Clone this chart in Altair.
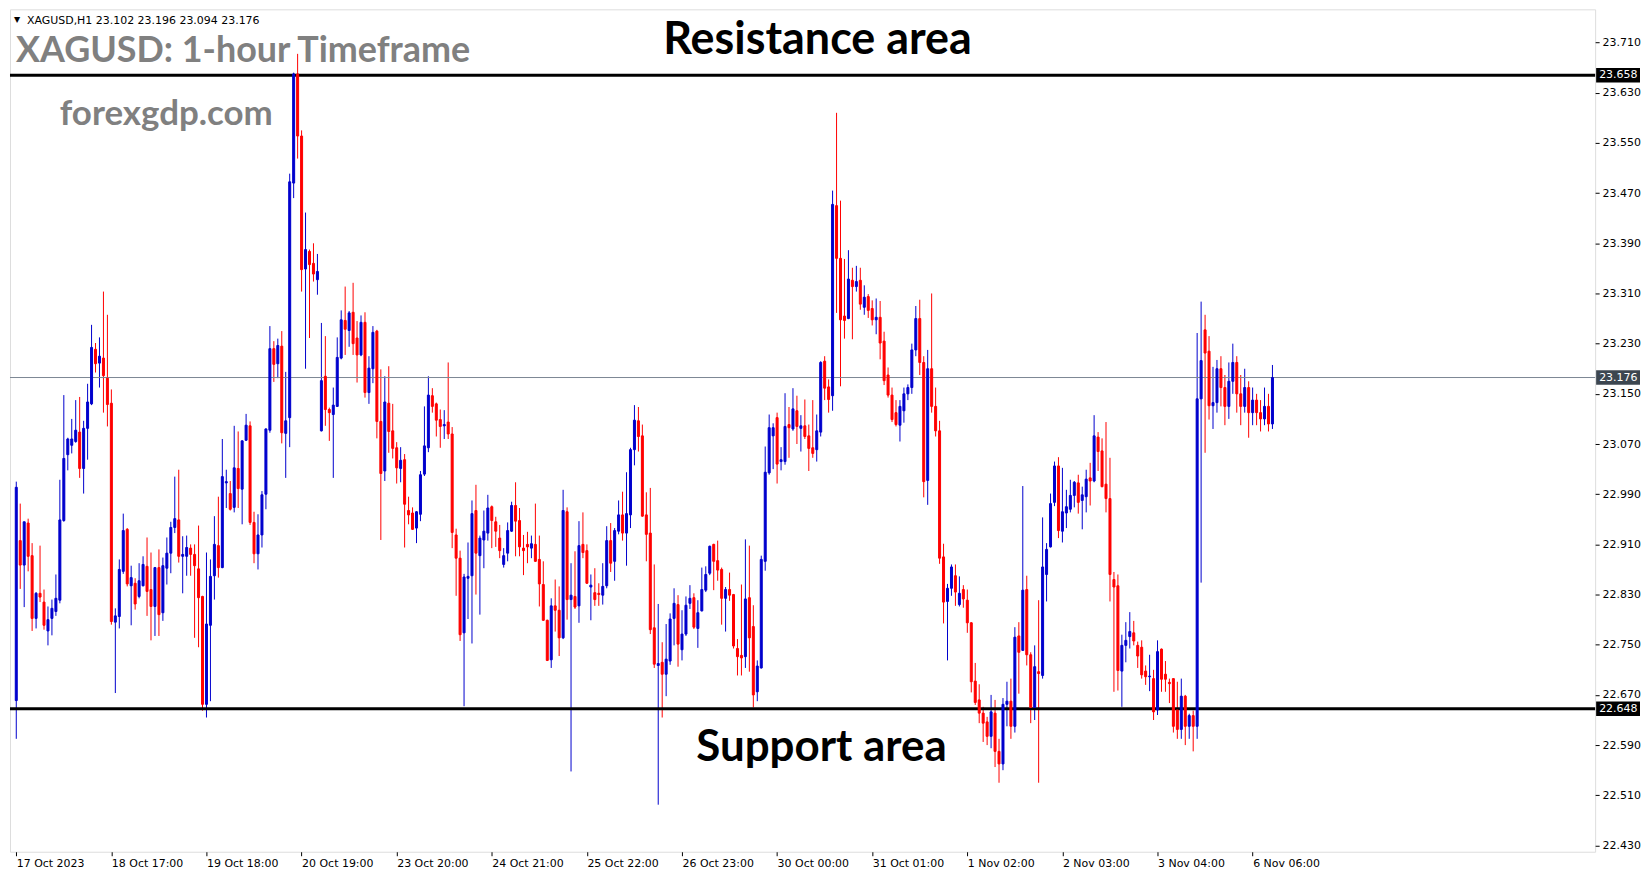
import altair as alt
import pandas as pd

# ---- candle data (XAGUSD H1) ----
OPEN = [22.661,22.916,22.877,22.944,22.892,22.792,22.832,22.818,22.772,22.792,
        22.803,22.821,22.948,23.053,23.068,23.074,23.089,23.031,23.095,23.134,
        23.221,23.199,23.207,23.175,23.135,22.786,22.795,22.867,22.934,22.844,
        22.848,22.827,22.844,22.875,22.838,22.811,22.873,22.801,22.872,22.896,
        22.937,22.949,22.891,22.891,22.904,22.894,22.871,22.827,22.655,22.781,
        22.860,22.908,22.873,23.008,22.991,22.969,23.031,22.998,23.076,23.099,
        22.945,22.895,22.925,22.990,23.092,23.222,23.198,23.226,23.087,23.112,
        23.486,23.660,23.561,23.349,23.377,23.358,23.332,23.091,23.178,23.125,
        23.117,23.130,23.207,23.267,23.251,23.280,23.239,23.212,23.264,23.152,
        23.190,23.250,23.106,23.027,23.135,23.091,23.064,23.031,23.045,22.964,
        22.960,22.936,22.958,23.022,23.064,23.147,23.134,23.109,23.099,23.105,
        23.086,22.925,22.888,22.769,22.856,22.860,22.964,22.892,22.917,22.928,
        22.970,22.946,22.920,22.878,22.896,22.931,22.972,22.948,22.904,22.910,
        22.904,22.910,22.886,22.846,22.789,22.726,22.812,22.805,22.761,22.962,
        22.822,22.827,22.812,22.910,22.900,22.842,22.833,22.832,22.829,22.844,
        22.916,22.883,22.931,22.957,22.928,22.957,23.061,23.107,23.083,22.957,
        22.928,22.777,22.717,22.722,22.703,22.724,22.792,22.814,22.742,22.767,
        22.816,22.825,22.776,22.804,22.837,22.864,22.910,22.884,22.870,22.824,
        22.838,22.830,22.744,22.733,22.731,22.825,22.779,22.675,22.713,22.883,
        23.024,23.083,23.112,23.042,23.042,23.101,23.094,23.123,23.095,23.099,
        23.083,23.064,23.061,23.089,23.202,23.161,23.147,23.450,23.366,23.274,
        23.270,23.331,23.321,23.331,23.288,23.305,23.286,23.268,23.272,23.234,
        23.180,23.148,23.120,23.100,23.123,23.150,23.160,23.220,23.270,23.200,
        23.012,23.190,23.130,23.091,22.890,22.819,22.840,22.860,22.814,22.838,
        22.821,22.785,22.692,22.662,22.641,22.627,22.604,22.641,22.580,22.560,
        22.655,22.660,22.620,22.764,22.741,22.838,22.734,22.650,22.707,22.701,
        22.862,22.906,22.977,23.035,22.931,22.960,22.966,22.988,23.008,22.980,
        22.986,23.016,23.011,23.081,23.059,23.006,22.983,22.854,22.844,22.708,
        22.749,22.763,22.769,22.749,22.746,22.708,22.699,22.696,22.646,22.743,
        22.703,22.690,22.696,22.646,22.615,22.668,22.620,22.637,22.620,23.142,
        23.252,23.218,23.131,23.136,23.190,23.160,23.130,23.170,23.200,23.150,
        23.130,23.160,23.120,23.140,23.120,23.110,23.130,23.102]
HIGH = [23.010,22.975,22.946,22.951,22.912,22.834,22.908,22.838,22.811,22.822,
        22.862,23.013,23.148,23.080,23.110,23.140,23.145,23.107,23.166,23.260,
        23.231,23.240,23.313,23.276,23.157,22.808,22.886,22.959,22.936,22.876,
        22.856,22.880,22.891,22.921,22.897,22.874,22.902,22.889,22.921,22.946,
        23.018,23.029,22.923,22.924,22.910,22.910,22.940,22.828,22.897,22.886,
        22.955,22.986,23.078,23.029,23.011,23.099,23.090,23.076,23.118,23.106,
        22.962,22.958,22.995,23.095,23.258,23.234,23.238,23.250,23.185,23.501,
        23.662,23.692,23.570,23.439,23.380,23.390,23.373,23.263,23.242,23.128,
        23.160,23.240,23.283,23.321,23.282,23.327,23.266,23.275,23.280,23.210,
        23.258,23.252,23.189,23.178,23.194,23.134,23.073,23.065,23.054,22.986,
        22.969,22.963,23.027,23.130,23.178,23.159,23.136,23.125,23.124,23.200,
        23.097,22.935,22.900,22.863,22.913,22.980,23.005,22.924,22.964,22.989,
        22.972,22.954,22.941,22.904,22.945,22.978,23.009,22.968,22.925,22.930,
        22.924,22.975,22.924,22.883,22.790,22.824,22.854,22.843,22.997,22.969,
        22.880,22.899,22.947,22.961,22.910,22.862,22.872,22.848,22.880,22.939,
        22.944,22.936,22.980,22.994,23.025,23.064,23.132,23.129,23.101,22.993,
        23.000,22.878,22.815,22.754,22.783,22.800,22.840,22.829,22.805,22.827,
        22.845,22.832,22.821,22.873,22.875,22.908,22.911,22.916,22.873,22.842,
        22.865,22.831,22.759,22.846,22.918,22.908,22.813,22.725,22.892,23.066,
        23.117,23.103,23.120,23.065,23.151,23.129,23.159,23.147,23.116,23.141,
        23.101,23.140,23.117,23.202,23.210,23.173,23.474,23.598,23.458,23.365,
        23.379,23.351,23.354,23.351,23.323,23.309,23.299,23.302,23.298,23.249,
        23.192,23.160,23.140,23.140,23.160,23.165,23.230,23.290,23.300,23.210,
        23.220,23.310,23.160,23.107,22.911,22.847,22.878,22.878,22.859,22.845,
        22.838,22.786,22.721,22.687,22.651,22.635,22.670,22.662,22.600,22.665,
        22.691,22.696,22.778,22.786,23.003,22.860,22.738,22.749,22.821,22.953,
        22.912,22.991,23.042,23.049,23.032,22.997,23.013,23.011,23.021,23.002,
        23.029,23.040,23.116,23.089,23.079,23.105,23.048,22.866,22.862,22.766,
        22.786,22.802,22.788,22.755,22.757,22.717,22.734,22.710,22.757,22.744,
        22.724,22.696,22.696,22.691,22.696,22.670,22.640,22.645,23.247,23.297,
        23.276,23.242,23.193,23.204,23.210,23.180,23.200,23.230,23.210,23.180,
        23.190,23.170,23.160,23.150,23.140,23.160,23.150,23.196]
LOW = [22.600,22.839,22.810,22.867,22.772,22.776,22.818,22.774,22.749,22.765,
       22.796,22.816,22.946,23.028,23.055,23.072,23.016,22.991,23.045,23.132,
       23.184,23.160,23.120,23.098,22.782,22.673,22.776,22.863,22.843,22.781,
       22.806,22.824,22.843,22.796,22.757,22.764,22.764,22.788,22.846,22.864,
       22.928,22.881,22.832,22.860,22.860,22.761,22.746,22.645,22.634,22.660,
       22.822,22.857,22.872,22.968,22.964,22.961,22.968,22.942,23.075,22.941,
       22.880,22.870,22.905,22.966,23.088,23.169,23.175,23.071,23.016,23.065,
       23.462,23.525,23.313,23.190,23.239,23.329,23.308,23.090,23.099,23.075,
       23.016,23.129,23.205,23.212,23.225,23.212,23.168,23.210,23.144,23.134,
       23.167,23.079,22.917,23.011,23.056,23.047,23.007,23.009,22.905,22.942,
       22.933,22.912,22.947,23.019,23.057,23.120,23.082,23.064,23.078,23.078,
       22.904,22.828,22.756,22.652,22.791,22.752,22.830,22.798,22.872,22.916,
       22.904,22.906,22.888,22.873,22.883,22.930,22.891,22.891,22.861,22.880,
       22.888,22.882,22.811,22.788,22.724,22.713,22.771,22.732,22.759,22.790,
       22.548,22.807,22.785,22.888,22.847,22.789,22.812,22.812,22.814,22.840,
       22.866,22.852,22.926,22.916,22.876,22.936,23.036,23.058,22.954,22.883,
       22.767,22.713,22.495,22.634,22.668,22.718,22.749,22.715,22.725,22.764,
       22.807,22.775,22.745,22.803,22.834,22.861,22.837,22.852,22.782,22.771,
       22.820,22.744,22.701,22.701,22.713,22.707,22.650,22.660,22.712,22.868,
       23.021,23.030,23.007,23.028,23.037,23.048,23.091,23.070,23.058,23.078,
       23.027,23.048,23.042,23.082,23.140,23.120,23.123,23.279,23.162,23.238,
       23.269,23.237,23.313,23.284,23.276,23.271,23.259,23.245,23.205,23.164,
       23.144,23.105,23.098,23.074,23.104,23.140,23.150,23.210,23.180,22.985,
       22.973,23.120,23.082,22.879,22.784,22.725,22.828,22.812,22.811,22.809,
       22.769,22.674,22.654,22.625,22.595,22.590,22.585,22.555,22.530,22.550,
       22.620,22.600,22.610,22.672,22.740,22.717,22.625,22.630,22.530,22.696,
       22.819,22.905,22.971,22.920,22.913,22.936,22.961,22.969,22.959,22.934,
       22.961,22.972,23.009,23.027,23.001,22.961,22.819,22.675,22.677,22.651,
       22.722,22.744,22.749,22.713,22.696,22.686,22.676,22.630,22.638,22.675,
       22.675,22.657,22.610,22.600,22.600,22.590,22.600,22.580,22.600,22.849,
       23.056,23.109,23.094,23.120,23.130,23.100,23.110,23.150,23.120,23.100,
       23.120,23.080,23.100,23.100,23.090,23.100,23.090,23.094]
CLOSE = [23.001,22.877,22.946,22.891,22.792,22.832,22.826,22.781,22.790,22.808,
         22.824,22.949,23.047,23.078,23.078,23.092,23.031,23.095,23.137,23.224,
         23.198,23.210,23.179,23.133,22.787,22.796,22.870,22.932,22.847,22.857,
         22.815,22.852,22.878,22.835,22.811,22.873,22.798,22.876,22.896,22.937,
         22.951,22.891,22.894,22.905,22.894,22.876,22.825,22.655,22.783,22.859,
         22.910,22.873,23.018,23.010,22.966,23.032,22.999,23.075,23.100,22.945,
         22.895,22.925,22.989,23.094,23.222,23.197,23.227,23.088,23.107,23.488,
         23.660,23.561,23.348,23.380,23.356,23.341,23.345,23.171,23.125,23.120,
         23.132,23.208,23.268,23.253,23.279,23.230,23.212,23.264,23.152,23.191,
         23.248,23.106,23.023,23.137,23.090,23.063,23.032,23.044,22.974,22.957,
         22.934,22.962,23.021,23.067,23.148,23.130,23.108,23.098,23.101,23.086,
         22.929,22.888,22.766,22.858,22.859,22.959,22.896,22.920,22.931,22.968,
         22.948,22.931,22.900,22.892,22.932,22.972,22.947,22.906,22.900,22.906,
         22.911,22.883,22.847,22.789,22.725,22.812,22.805,22.761,22.964,22.822,
         22.829,22.810,22.908,22.897,22.848,22.845,22.822,22.830,22.843,22.916,
         22.880,22.932,22.957,22.928,22.959,23.061,23.108,23.082,22.955,22.926,
         22.774,22.719,22.720,22.703,22.727,22.791,22.816,22.751,22.767,22.813,
         22.824,22.778,22.801,22.838,22.862,22.907,22.883,22.869,22.824,22.838,
         22.829,22.748,22.731,22.729,22.823,22.761,22.670,22.716,22.886,23.025,
         23.096,23.096,23.038,23.045,23.098,23.096,23.126,23.098,23.099,23.082,
         23.063,23.055,23.091,23.200,23.159,23.141,23.452,23.366,23.268,23.267,
         23.333,23.321,23.329,23.293,23.304,23.283,23.268,23.272,23.231,23.171,
         23.148,23.109,23.101,23.130,23.150,23.160,23.220,23.270,23.200,23.010,
         23.190,23.130,23.091,22.888,22.818,22.840,22.874,22.834,22.832,22.823,
         22.785,22.691,22.658,22.641,22.625,22.604,22.643,22.580,22.560,22.655,
         22.660,22.620,22.762,22.738,22.837,22.734,22.650,22.715,22.704,22.874,
         22.902,22.975,23.035,22.932,22.962,22.970,22.988,23.009,22.977,22.989,
         23.014,23.011,23.083,23.058,23.002,22.983,22.862,22.842,22.709,22.749,
         22.757,22.771,22.756,22.732,22.702,22.699,22.700,22.643,22.739,22.695,
         22.695,22.688,22.620,22.615,22.668,22.620,22.637,22.620,23.142,23.203,
         23.215,23.131,23.136,23.190,23.160,23.130,23.170,23.200,23.150,23.130,
         23.160,23.120,23.140,23.120,23.110,23.130,23.102,23.176]

X_TICK_BARS = [0, 24, 48, 72, 96, 120, 144, 168, 192, 216, 240, 264, 288, 312]
X_TICK_LABELS = ["17 Oct 2023", "18 Oct 17:00", "19 Oct 18:00", "20 Oct 19:00",
                 "23 Oct 20:00", "24 Oct 21:00", "25 Oct 22:00", "26 Oct 23:00",
                 "30 Oct 00:00", "31 Oct 01:00", "1 Nov 02:00", "2 Nov 03:00",
                 "3 Nov 04:00", "6 Nov 06:00"]
Y_TICKS = [22.430, 22.510, 22.590, 22.670, 22.750, 22.830, 22.910, 22.990,
           23.070, 23.150, 23.230, 23.310, 23.390, 23.470, 23.550, 23.630, 23.710]
RESISTANCE = 23.658
SUPPORT = 22.648
LAST_PRICE = 23.176
HEADER = "XAGUSD,H1  23.102 23.196 23.094 23.176"

W, H = 1590, 845
X_DOMAIN = [-0.325, 397.175]
Y_DOMAIN = [22.420, 23.763]
BLUE, RED = "#0000CD", "#FF0000"
SMALL_FONT = "DejaVu Sans"
BIG_FONT = "Lato"

n = len(CLOSE)
df = pd.DataFrame({"i": list(range(n)), "open": OPEN, "high": HIGH,
                   "low": LOW, "close": CLOSE})
df["dir"] = ["up" if c >= o else "down" for o, c in zip(OPEN, CLOSE)]

xs = alt.Scale(domain=X_DOMAIN, nice=False, zero=False)
ys = alt.Scale(domain=Y_DOMAIN, nice=False, zero=False)
cs = alt.Scale(domain=["up", "down"], range=[BLUE, RED])

label_expr = "[" + ",".join("'%s'" % s for s in X_TICK_LABELS) + "][round(datum.value/24)]"

x_enc = alt.X("i:Q", scale=xs, axis=alt.Axis(
    values=X_TICK_BARS, labelExpr=label_expr, orient="bottom", grid=False,
    domain=False, tickSize=4, labelAlign="left", labelPadding=2,
    labelFont=SMALL_FONT, labelFontSize=11, labelColor="black",
    tickColor="black", title=None, labelOverlap=False, labelFlush=False))
y_axis = alt.Axis(values=Y_TICKS, format=".3f", orient="right", grid=False,
                  domain=False, tickSize=4, labelPadding=3, labelFont=SMALL_FONT,
                  labelFontSize=11, labelColor="black", tickColor="black",
                  title=None, labelOverlap=False, labelFlush=False)

wicks = alt.Chart(df).mark_rule(strokeWidth=1).encode(
    x=x_enc,
    y=alt.Y("low:Q", scale=ys, axis=y_axis),
    y2="high:Q",
    color=alt.Color("dir:N", scale=cs, legend=None),
)
bodies = alt.Chart(df).mark_bar(width=2, strokeWidth=1).encode(
    x=alt.X("i:Q", scale=xs),
    y=alt.Y("open:Q", scale=ys),
    y2="close:Q",
    fill=alt.Fill("dir:N", scale=cs, legend=None),
    stroke=alt.Stroke("dir:N", scale=cs, legend=None),
)

levels = pd.DataFrame({"p": [RESISTANCE, SUPPORT]})
level_rules = alt.Chart(levels).mark_rule(color="black", strokeWidth=3).encode(
    y=alt.Y("p:Q", scale=ys))
last_df = pd.DataFrame({"p": [LAST_PRICE]})
last_rule = alt.Chart(last_df).mark_rule(color="#7b8794", strokeWidth=1).encode(
    y=alt.Y("p:Q", scale=ys))

tags = pd.DataFrame({"p": [RESISTANCE, LAST_PRICE, SUPPORT],
                     "bg": ["black", "#3c4650", "black"]})
tag_boxes = alt.Chart(tags).mark_rect().transform_calculate(
    top="datum.p + 0.0115", bot="datum.p - 0.0115"
).encode(
    x=alt.value(W + 1), x2=alt.value(W + 45),
    y=alt.Y("top:Q", scale=ys), y2="bot:Q",
    fill=alt.Fill("bg:N", scale=None),
)
tag_text = alt.Chart(tags).mark_text(
    align="left", baseline="middle", color="white", font=SMALL_FONT, fontSize=11
).encode(x=alt.value(W + 4), y=alt.Y("p:Q", scale=ys),
         text=alt.Text("p:Q", format=".3f"))

one = pd.DataFrame({"k": [0]})

def label(txt, x, y, size, color, font, weight="normal", align="left"):
    return alt.Chart(one).mark_text(
        text=txt, align=align, baseline="alphabetic", fontSize=size,
        font=font, fontWeight=weight, color=color
    ).encode(x=alt.value(x), y=alt.value(y))

tri = alt.Chart(one).mark_text(text="\u25bc", align="left", baseline="middle",
                               fontSize=8, font=SMALL_FONT, color="black"
                               ).encode(x=alt.value(4), y=alt.value(11))
header = alt.Chart(one).mark_text(text=HEADER, align="left", baseline="middle",
                                  fontSize=11, font=SMALL_FONT, color="black"
                                  ).encode(x=alt.value(17), y=alt.value(11.5))
title_txt = label("XAGUSD: 1-hour Timeframe", 6, 53, 36, "#808080", BIG_FONT, "bold")
site_txt = label("forexgdp.com", 50, 116, 35, "#808080", BIG_FONT, "bold")
res_txt = label("Resistance area", 810, 45, 45, "black", BIG_FONT, "bold", "center")
sup_txt = label("Support area", 814, 754, 44, "black", BIG_FONT, "bold", "center")

chart = alt.layer(
    wicks, title_txt, site_txt, res_txt, sup_txt, last_rule, level_rules,
    bodies, tag_boxes, tag_text, tri, header
).properties(width=W, height=H, padding=0).configure_view(
    stroke="black", strokeWidth=1
).configure(background="white")

chart.save("out.html", embed_options={"renderer": "svg", "actions": False})
